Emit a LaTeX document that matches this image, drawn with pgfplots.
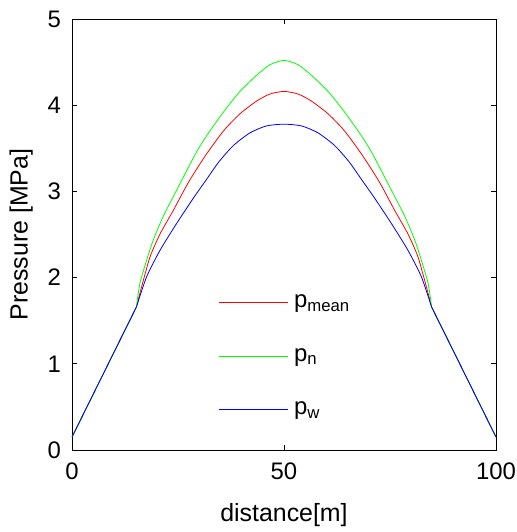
\documentclass[border=0pt]{standalone}
\usepackage{fontspec}
\setmainfont{Liberation Sans}
\usepackage{pgfplots}
\pgfplotsset{compat=1.18}
\begin{document}
\fontsize{24}{28}\selectfont
\begin{tikzpicture}
\useasboundingbox (-72bp,-82bp) rectangle (445bp,450bp);
\begin{axis}[
  at={(0,0)}, anchor=south west,
  scale only axis,
  width=424bp, height=431bp,
  xmin=0, xmax=100, ymin=0, ymax=5,
  xtick={0,50,100}, ytick={0,1,2,3,4,5},
  tick align=inside,
  major tick length=5bp,
  axis line style={line width=0.9bp},
  tick style={line width=0.9bp, black},
  /pgf/number format/assume math mode=true,
  ticklabel style={font=\fontsize{24}{28}\selectfont},
  xticklabel style={yshift=-5bp},
  yticklabel style={xshift=-3bp},
  label style={font=\fontsize{25}{29}\selectfont},
  xlabel={distance[m]},
  ylabel={Pressure [MPa]},
  xlabel style={at={(axis description cs:0.5,-0.151)}, anchor=center},
  ylabel style={at={(axis description cs:-0.12,0.5)}, anchor=center},
  legend style={draw=none, fill=none, at={(0.337,0.37)}, anchor=north west,
    font=\fontsize{24}{28}\selectfont, row sep=33bp,
    /tikz/every odd column/.append style={column sep=4bp}},
  legend cell align=left,
  legend image code/.code={\draw[#1, line width=1bp] (0bp,0bp) -- (69bp,0bp);},
]
% p_mean
\addplot[red, line width=0.8bp, forget plot] coordinates {(0,0.15) (15.2,1.66)};
\addplot[draw=red, line width=0.8bp, smooth, tension=0.4] coordinates {
(15.2,1.66) (16.4,1.89) (18.4,2.24) (20.8,2.51) (23.9,2.78) (27.4,3.10) (31.4,3.41) (35.7,3.70) (39.6,3.90) (43.6,4.05) (46.7,4.13) (50,4.16)
(53.3,4.13) (56.4,4.05) (60.4,3.90) (64.3,3.70) (68.6,3.41) (72.6,3.10) (76.1,2.78) (79.2,2.51) (81.6,2.24) (83.6,1.89) (84.8,1.66)};
\addlegendentry{p\textsubscript{mean}}
\addplot[red, line width=0.8bp, forget plot] coordinates {(84.8,1.66) (100,0.15)};
% p_n
\addplot[green, line width=0.8bp, forget plot] coordinates {(0,0.15) (15.2,1.66)};
\addplot[draw=green, line width=0.8bp, smooth, tension=0.4] coordinates {
(15.2,1.66) (16.0,1.93) (17.6,2.20) (19.2,2.44) (21.5,2.71) (23.9,2.94) (26.3,3.17) (29.4,3.46) (31.8,3.65) (35.7,3.92) (39.6,4.16) (43.6,4.35) (46.7,4.47) (50,4.52)
(53.3,4.47) (56.4,4.35) (60.4,4.16) (64.3,3.92) (68.2,3.65) (70.6,3.46) (73.7,3.17) (76.1,2.94) (78.5,2.71) (80.8,2.44) (82.4,2.20) (84.0,1.93) (84.8,1.66)};
\addlegendentry{p\textsubscript{n}}
\addplot[green, line width=0.8bp, forget plot] coordinates {(84.8,1.66) (100,0.15)};
% p_w
\addplot[blue, line width=0.8bp, forget plot] coordinates {(0,0.15) (15.2,1.66)};
\addplot[draw=blue, line width=0.8bp, smooth, tension=0.4] coordinates {
(15.2,1.66) (17.6,2.01) (20.8,2.32) (24.7,2.63) (28.6,2.92) (31.6,3.13) (34.6,3.34) (38.0,3.53) (42.0,3.68) (45.9,3.76) (50,3.78)
(54.1,3.76) (58.0,3.68) (62.0,3.53) (65.4,3.34) (68.4,3.13) (71.4,2.92) (75.3,2.63) (79.2,2.32) (82.4,2.01) (84.8,1.66)};
\addlegendentry{p\textsubscript{w}}
\addplot[blue, line width=0.8bp, forget plot] coordinates {(84.8,1.66) (100,0.15)};
\end{axis}
\end{tikzpicture}
\end{document}
